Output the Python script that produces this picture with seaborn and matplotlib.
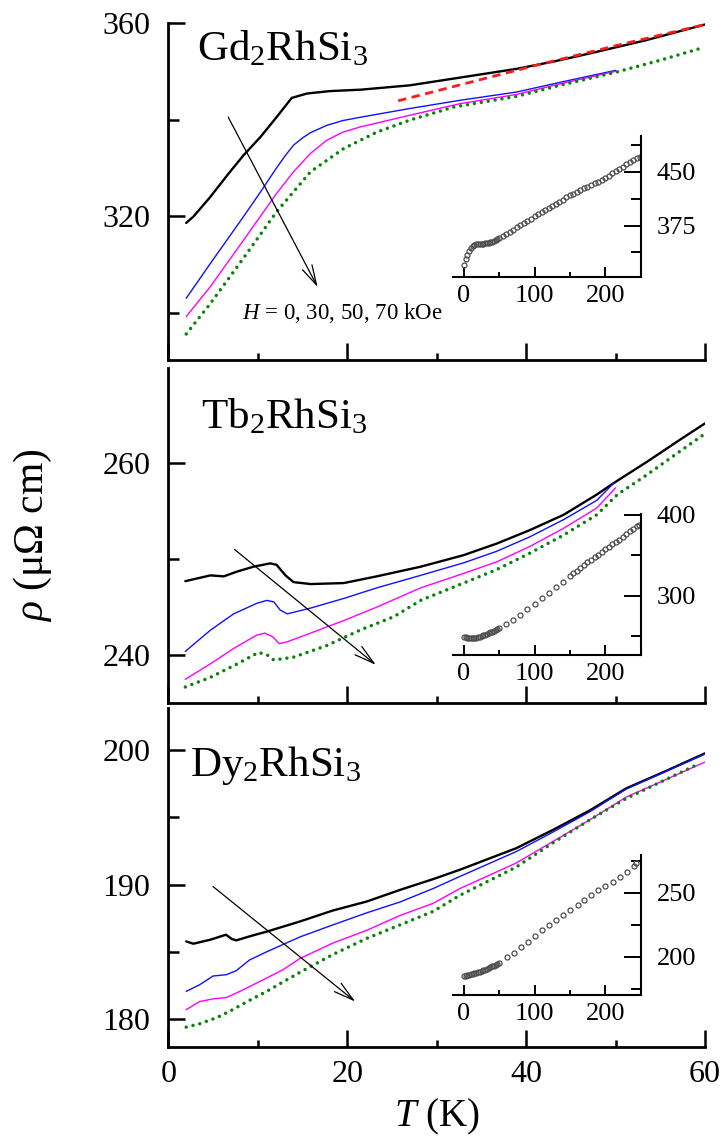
import matplotlib
matplotlib.use("Agg")
import matplotlib.pyplot as plt
import seaborn as sns

# ---------------- data ----------------
# Gd2RhSi3 main panel, H = 0, 30, 50, 70 kOe  (T in K, rho in uOhm cm)
gd_T_0 = [2.0, 2.8, 4.7, 6.6, 8.4, 10.3, 12.1, 13.8, 15.5, 18.0, 21.5, 27.0, 32.6, 38.9, 43.0, 47.1, 53.3, 60.0]
gd_r_0 = [318.6, 319.9, 324.0, 328.5, 332.6, 336.4, 340.5, 344.5, 345.4, 345.9, 346.2, 347.1, 348.7, 350.5, 352.0, 353.7, 356.4, 359.7]
gd_T_30 = [2.0, 4.7, 8.4, 10.3, 12.1, 13.1, 14.0, 15.0, 15.9, 17.7, 19.5, 21.5, 27.0, 32.6, 38.9, 44.0, 50.0]
gd_r_30 = [303.0, 310.2, 319.9, 325.0, 330.0, 332.6, 334.7, 336.2, 337.3, 338.8, 339.8, 340.5, 342.3, 344.0, 345.7, 347.8, 350.2]
gd_T_50 = [2.0, 4.7, 8.4, 12.1, 14.0, 15.9, 17.7, 19.5, 21.5, 27.0, 32.6, 38.9, 44.0, 50.0]
gd_r_50 = [299.2, 305.4, 315.0, 324.7, 329.2, 333.0, 335.7, 337.4, 338.5, 340.9, 343.3, 345.2, 347.5, 350.0]
gd_T_70 = [2.0, 4.7, 8.4, 12.1, 15.9, 19.6, 23.3, 27.0, 31.9, 38.9, 44.0, 50.0, 55.0, 59.4]
gd_r_70 = [295.6, 301.9, 311.3, 320.9, 329.2, 334.0, 337.4, 339.9, 342.6, 344.8, 347.2, 349.8, 352.3, 354.7]
gd_fit_T = [25.7, 32.0, 41.0, 50.0, 60.0]
gd_fit_r = [343.9, 346.9, 351.2, 355.3, 359.7]

# Gd2RhSi3 inset, zero field up to 250 K
gd_in_T = [0, 2.5, 5, 7.5, 10, 12.5, 15, 17.5, 20, 22.5, 25, 27.5, 30, 32.5, 35, 37.5, 40, 42.5, 45, 47.5, 50,
           55, 60, 65, 70, 75, 80, 85, 90, 95, 100, 105, 110, 115, 120, 125, 130, 135, 140, 145, 150,
           155, 160, 165, 170, 175, 180, 185, 190, 195, 200, 205, 210, 215, 220, 225, 230, 235, 240, 245, 250]
gd_in_r = [320, 328, 334.5, 339.5, 343.5, 347, 348.3, 348.6, 348.9, 349.1, 349.3, 349.5, 350, 350.5, 351, 351.6, 352.3, 353, 354.5, 356, 357.8,
           360.5, 363.2, 366.5, 369.5, 372.5, 375.5, 378.6, 381.7, 384.8, 388, 390.9, 393.8, 396.6, 399.5, 402.4, 405.3, 408.2, 411.2, 414.2, 417,
           419.6, 422.1, 424.6, 427, 429.3, 431.6, 434, 436.4, 438.8, 441.6, 444.6, 447.7, 451, 454.3, 457.4, 460.4, 463.3, 466, 468.7, 471]

# Tb2RhSi3 main panel
tb_T_0 = [1.9, 4.7, 6.2, 7.7, 9.5, 11.4, 12.1, 13.1, 14.0, 15.9, 19.6, 23.3, 28.2, 33.0, 36.7, 40.4, 44.2, 47.9, 49.8, 53.5, 57.2, 60.0]
tb_r_0 = [247.7, 248.3, 248.2, 248.7, 249.2, 249.55, 249.4, 248.3, 247.6, 247.4, 247.5, 248.2, 249.2, 250.4, 251.6, 253.0, 254.6, 256.7, 257.9, 260.1, 262.4, 264.1]
tb_T_30 = [1.9, 4.7, 7.3, 9.9, 11.0, 11.8, 12.5, 13.3, 15.9, 19.6, 23.3, 28.2, 33.0, 36.7, 40.4, 44.2, 47.9, 49.8]
tb_r_30 = [240.4, 242.6, 244.3, 245.4, 245.7, 245.55, 244.7, 244.3, 244.9, 245.9, 247.0, 248.3, 249.6, 250.8, 252.3, 254.1, 256.1, 257.9]
tb_T_50 = [1.9, 4.7, 7.3, 9.9, 10.8, 11.7, 12.4, 13.3, 15.9, 19.6, 23.3, 28.2, 33.0, 36.7, 40.4, 44.2, 47.9, 50.0]
tb_r_50 = [237.5, 239.1, 240.7, 242.1, 242.3, 241.9, 241.2, 241.4, 242.3, 243.6, 245.0, 247.0, 248.5, 249.7, 251.3, 253.2, 255.3, 257.4]
tb_T_70 = [1.9, 4.7, 7.7, 10.1, 11.1, 11.8, 14.0, 17.7, 21.4, 25.2, 28.2, 33.0, 36.7, 40.4, 44.2, 47.9, 50.2, 53.5, 57.2, 59.8]
tb_r_70 = [236.7, 237.7, 239.1, 240.3, 240.0, 239.5, 239.8, 241.0, 242.6, 244.0, 245.7, 247.5, 248.9, 250.6, 252.5, 254.6, 256.7, 258.75, 261.2, 262.9]

# Tb2RhSi3 inset
tb_in_T = [0, 2.5, 5, 7.5, 10, 12.5, 15, 17.5, 20, 22.5, 25, 27.5, 30, 32.5, 35, 37.5, 40, 42.5, 45, 47.5, 50,
           60, 70, 80, 90, 100, 110, 120, 130, 140, 150,
           155, 160, 165, 170, 175, 180, 185, 190, 195, 200, 205, 210, 215, 220, 225, 230, 235, 240, 245, 248]
tb_in_r = [248.5, 248.2, 247.8, 247.5, 247.5, 247.4, 247.5, 248, 248.6, 249.3, 250, 250.8, 251.6, 252.5, 253.4, 254.4, 255.4, 256.5, 257.6, 258.7, 259.8,
           264.5, 269.5, 276, 283, 290, 297, 303.8, 310.6, 317.4, 324.2,
           327.6, 331, 334.4, 337.8, 341.2, 344.4, 347.6, 350.8, 354, 357.2, 360.4, 363.5, 366.6, 369.5, 372.8, 376.2, 379.6, 383, 386.4, 388]

# Dy2RhSi3 main panel
dy_T_0 = [2.0, 2.8, 4.7, 6.45, 7.1, 7.6, 9.1, 11.0, 14.7, 18.4, 22.2, 25.9, 29.6, 32.6, 38.9, 43.0, 47.1, 51.2, 55.5, 60.0]
dy_r_0 = [185.77, 185.6, 185.9, 186.27, 185.95, 185.85, 186.15, 186.5, 187.25, 188.07, 188.74, 189.6, 190.4, 191.1, 192.7, 194.06, 195.5, 197.15, 198.4, 199.75]
dy_T_30 = [2.0, 3.5, 5.0, 6.5, 7.6, 9.1, 11.0, 14.7, 18.4, 22.2, 25.9, 29.6, 32.6, 38.9, 43.0, 47.1, 51.2, 60.0]
dy_r_30 = [182.06, 182.55, 183.2, 183.3, 183.6, 184.4, 185.0, 186.1, 187.0, 187.9, 188.7, 189.7, 190.6, 192.45, 193.9, 195.4, 197.1, 199.7]
dy_T_50 = [2.0, 3.5, 5.0, 6.5, 8.0, 11.0, 12.9, 14.7, 18.4, 22.2, 25.9, 29.6, 32.6, 38.9, 43.0, 47.1, 51.2, 60.0]
dy_r_50 = [180.7, 181.3, 181.5, 181.6, 182.06, 183.05, 183.7, 184.5, 185.65, 186.6, 187.7, 188.6, 189.7, 191.6, 193.2, 194.8, 196.5, 199.1]
dy_T_70 = [2.0, 3.5, 5.4, 7.2, 9.1, 11.0, 14.7, 18.4, 22.2, 25.9, 29.6, 32.6, 38.9, 43.0, 47.1, 51.2, 59.4]
dy_r_70 = [179.4, 179.65, 180.1, 180.7, 181.4, 182.06, 183.47, 184.8, 186.0, 187.0, 188.0, 189.2, 191.3, 193.1, 194.8, 196.4, 199.0]

# Dy2RhSi3 inset
dy_in_T = [0, 2.5, 5, 7.5, 10, 12.5, 15, 17.5, 20, 22.5, 25, 27.5, 30, 32.5, 35, 37.5, 40, 42.5, 45, 47.5, 50,
           61, 70.4, 81, 90.4, 100.4, 111, 120.4, 130, 140.4, 150.4, 161, 170.4, 180, 189.6, 200, 211, 220.4, 231, 241, 244]
dy_in_r = [184.8, 185.0, 185.4, 185.8, 186.3, 186.8, 187.2, 187.6, 188.0, 188.4, 188.8, 189.3, 189.9, 190.5, 191.1, 191.8, 192.4, 193.1, 193.8, 194.5, 195.2,
           199.5, 203.1, 207.3, 211.7, 216.2, 220.9, 224.8, 228.7, 232.6, 236.5, 240.4, 244.3, 248.2, 252.1, 255.2, 258.6, 262.5, 266.4, 270.9, 273.4]

# field arrows (start T, start rho, end T, end rho)
gd_arrow = [6.7, 340.5, 16.7, 305.3]
tb_arrow = [7.4, 251.0, 23.2, 239.0]
dy_arrow = [5.0, 189.85, 20.9, 181.3]

compounds = [r"Gd$_2$RhSi$_3$", r"Tb$_2$RhSi$_3$", r"Dy$_2$RhSi$_3$"]
field_label = r"$H$ = 0, 30, 50, 70 kOe"

# ---------------- style ----------------
sns.set_style("ticks")
plt.rcParams["font.family"] = ["Liberation Serif", "DejaVu Serif"]
plt.rcParams["mathtext.fontset"] = "custom"
plt.rcParams["mathtext.rm"] = "Liberation Serif"
plt.rcParams["mathtext.it"] = "Liberation Serif:italic"
plt.rcParams["mathtext.bf"] = "Liberation Serif:bold"
for key in ["text.color", "axes.edgecolor", "axes.labelcolor", "xtick.color", "ytick.color"]:
    plt.rcParams[key] = "black"

GREEN = "#0a820a"
DOTS = dict(color=GREEN, lw=2.5, linestyle=(0, (0.01, 2.0)), dash_capstyle="round")


def style_main(ax, ylim, ymajor, yminor, xlabels):
    ax.set_facecolor("none")
    ax.set_xlim(0, 60)
    ax.set_ylim(*ylim)
    ax.set_xticks([0, 20, 40, 60])
    ax.set_xticks([10, 30, 50], minor=True)
    ax.set_yticks(ymajor)
    ax.set_yticks(yminor, minor=True)
    for s in ["top", "right"]:
        ax.spines[s].set_visible(False)
    for s in ["left", "bottom"]:
        ax.spines[s].set_linewidth(2.0)
    ax.tick_params(axis="y", which="major", direction="in", length=12, width=1.8,
                   labelsize=23, pad=13)
    ax.tick_params(axis="y", which="minor", direction="in", length=8, width=1.8)
    ax.tick_params(axis="x", which="major", direction="in", length=12, width=1.8,
                   labelsize=23, pad=9, labelbottom=xlabels)
    ax.tick_params(axis="x", which="minor", direction="in", length=5.3, width=1.8)
    ax.set_xlabel("")
    ax.set_ylabel("")


def style_inset(ax, ylim, ymajor, yminor):
    ax.set_facecolor("none")
    ax.set_xlim(-15.5, 251)
    ax.set_ylim(*ylim)
    ax.set_xticks([0, 100, 200])
    ax.set_xticks([50, 150], minor=True)
    ax.set_yticks(ymajor)
    ax.set_yticks(yminor, minor=True)
    for s in ["top", "left"]:
        ax.spines[s].set_visible(False)
    for s in ["right", "bottom"]:
        ax.spines[s].set_linewidth(1.5)
    ax.yaxis.tick_right()
    ax.tick_params(axis="y", which="major", direction="in", length=12, width=1.4,
                   labelsize=19, pad=11, labelright=True, labelleft=False)
    ax.tick_params(axis="y", which="minor", direction="in", length=7, width=1.4)
    ax.tick_params(axis="x", which="major", direction="in", length=7, width=1.4,
                   labelsize=19, pad=6)
    ax.tick_params(axis="x", which="minor", direction="in", length=3.6, width=1.4)
    ax.set_xlabel("")
    ax.set_ylabel("")


def draw_curves(ax, T0, r0, T30, r30, T50, r50, T70, r70):
    sns.lineplot(x=T0, y=r0, ax=ax, color="black", lw=1.7, estimator=None, sort=False)
    sns.lineplot(x=T30, y=r30, ax=ax, color="#1010ff", lw=1.0, estimator=None, sort=False)
    sns.lineplot(x=T50, y=r50, ax=ax, color="#ff00ff", lw=1.0, estimator=None, sort=False)
    sns.lineplot(x=T70, y=r70, ax=ax, estimator=None, sort=False, **DOTS)


def draw_inset(ax, T, r):
    sns.lineplot(x=T, y=r, ax=ax, estimator=None, sort=False, linestyle="",
                 marker="o", markersize=3.6, markerfacecolor="none",
                 markeredgecolor="#4d4d4d", markeredgewidth=0.9)


def draw_arrow(ax, a):
    ax.annotate("", xy=(a[2], a[3]), xytext=(a[0], a[1]),
                arrowprops=dict(arrowstyle="->,head_length=0.6,head_width=0.16",
                                lw=0.9, color="black", mutation_scale=24,
                                shrinkA=0, shrinkB=0))


fig = plt.figure(figsize=(7.23, 11.47), dpi=100)
ax1 = fig.add_axes([0.2328, 0.6861, 0.7423, 0.2938])
ax2 = fig.add_axes([0.2328, 0.3868, 0.7423, 0.2923])
ax3 = fig.add_axes([0.2328, 0.0869, 0.7423, 0.2956])
in1 = fig.add_axes([0.6265, 0.7588, 0.2603, 0.1227])
in2 = fig.add_axes([0.6265, 0.4289, 0.2603, 0.1229])
in3 = fig.add_axes([0.6265, 0.1325, 0.2603, 0.1221])

# Gd2RhSi3
draw_curves(ax1, gd_T_0, gd_r_0, gd_T_30, gd_r_30, gd_T_50, gd_r_50, gd_T_70, gd_r_70)
sns.lineplot(x=gd_fit_T, y=gd_fit_r, ax=ax1, color="#ff1a1a", lw=2.0,
             linestyle=(0, (3.0, 2.0)), estimator=None, sort=False)
draw_arrow(ax1, gd_arrow)
ax1.text(8.2, 298.8, field_label, fontsize=16.5, va="baseline")
ax1.text(3.2, 352.3, compounds[0], fontsize=31, va="baseline")
style_main(ax1, (290.2, 360.0), [320, 360], [300, 340], False)
draw_inset(in1, gd_in_T, gd_in_r)
style_inset(in1, (303.7, 500.1), [375, 450], [337.5, 412.5, 487.5])

# Tb2RhSi3
draw_curves(ax2, tb_T_0, tb_r_0, tb_T_30, tb_r_30, tb_T_50, tb_r_50, tb_T_70, tb_r_70)
draw_arrow(ax2, tb_arrow)
ax2.text(3.7, 263.6, compounds[1], fontsize=31, va="baseline")
style_main(ax2, (235.0, 269.85), [240, 260], [250], False)
draw_inset(in2, tb_in_T, tb_in_r)
style_inset(in2, (226.4, 401.0), [300, 400], [250, 350])

# Dy2RhSi3
draw_curves(ax3, dy_T_0, dy_r_0, dy_T_30, dy_r_30, dy_T_50, dy_r_50, dy_T_70, dy_r_70)
draw_arrow(ax3, dy_arrow)
ax3.text(2.4, 198.07, compounds[2], fontsize=31, va="baseline")
style_main(ax3, (177.9, 203.1), [180, 190, 200], [185, 195], True)
draw_inset(in3, dy_in_T, dy_in_r)
style_inset(in3, (170.1, 279.4), [200, 250], [175, 225, 275])

fig.text(0.0456, 0.5336, r"$\rho$ (μΩ cm)", rotation=90, fontsize=30,
         ha="center", va="center")
fig.text(0.6037, 0.026, r"$T$ (K)", fontsize=28, ha="center", va="center")

fig.savefig("out.png", dpi=100)
